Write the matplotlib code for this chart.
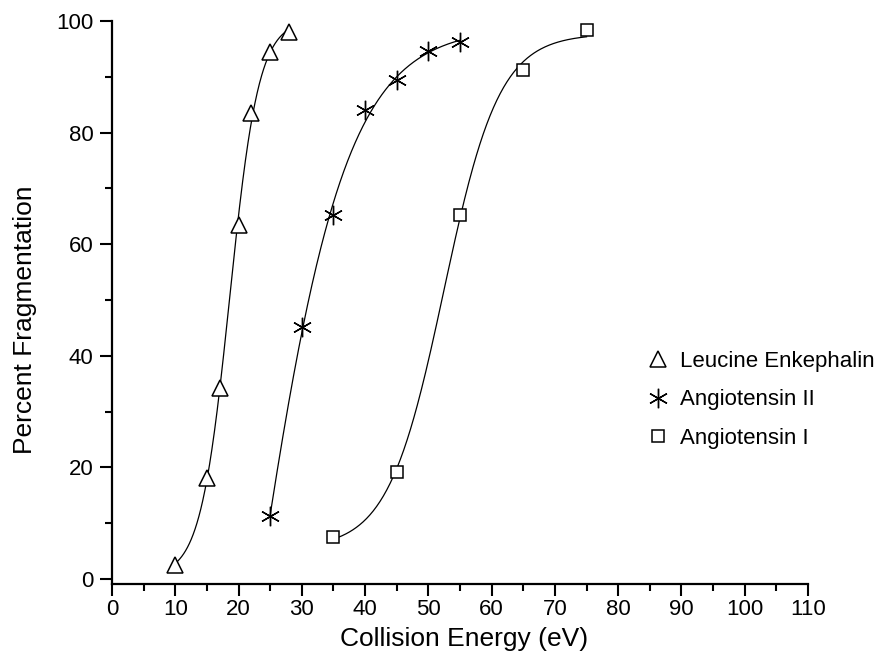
import numpy as np
import matplotlib
matplotlib.use("Agg")
import matplotlib.pyplot as plt
from matplotlib.ticker import MultipleLocator

plt.rcParams['font.family'] = ['Liberation Sans', 'DejaVu Sans']

# Data
leu_x = np.array([10, 15, 17, 20, 22, 25, 28], dtype=float)
leu_y = np.array([2.5, 18.1, 34.2, 63.4, 83.5, 94.4, 98.0])
ang2_x = np.array([25, 30, 35, 40, 45, 50, 55], dtype=float)
ang2_y = np.array([11.3, 45.2, 65.2, 84.0, 89.4, 94.6, 96.2])
ang1_x = np.array([35, 45, 55, 65, 75], dtype=float)
ang1_y = np.array([7.5, 19.2, 65.3, 91.2, 98.3])

labels = ["Leucine Enkephalin", "Angiotensin II", "Angiotensin I"]
xticks = np.arange(0, 111, 10)
yticks = np.arange(0, 101, 20)


def boltz(p, x):
    a1, a2, x0, dx = p
    z = np.clip((x - x0) / dx, -60, 60)
    return a2 + (a1 - a2) / (1 + np.exp(z))


def fit_boltz(x, y):
    p = np.array([y.min() - 3, y.max() + 2, x[np.argmin(np.abs(y - 50))],
                  (x.max() - x.min()) / 8])
    lam = 1e-2
    def res(q):
        return boltz(q, x) - y
    for _ in range(800):
        r = res(p)
        J = np.empty((len(x), 4))
        for k in range(4):
            dp = np.zeros(4)
            h = 1e-6 * max(1.0, abs(p[k]))
            dp[k] = h
            J[:, k] = (res(p + dp) - r) / h
        A = J.T @ J
        g = J.T @ r
        try:
            step = np.linalg.solve(A + lam * np.diag(np.diag(A) + 1e-9), -g)
        except np.linalg.LinAlgError:
            lam *= 10
            continue
        pn = p + step
        if np.sum(res(pn) ** 2) < np.sum(r ** 2):
            p = pn
            lam = max(lam * 0.3, 1e-12)
        else:
            lam *= 10
    return p


W, H = 889, 665
fig = plt.figure(figsize=(W / 100, H / 100), dpi=100)
ax = fig.add_axes([112 / W, 1 - 584 / H, (808 - 112) / W, (584 - 21) / H])

series = [
    (leu_x, leu_y, dict(marker='^', markersize=11)),
    (ang2_x, ang2_y, dict(marker=(6, 2, 0), markersize=14, markeredgewidth=1.0)),
    (ang1_x, ang1_y, dict(marker='s', markersize=9)),
]

for (x, y, mk), lab in zip(series, labels):
    p = fit_boltz(x, y)
    xs = np.linspace(x.min(), x.max(), 300)
    ax.plot(xs, boltz(p, xs), color='black', lw=0.9, zorder=2)
    kw = dict(linestyle='none', color='black', markerfacecolor='white',
              markeredgecolor='black', markeredgewidth=1.1)
    kw.update(mk)
    ax.plot(x, y, label=lab, zorder=3, **kw)

ax.set_xlim(0, 110)
ax.set_ylim(-0.9, 100)
ax.set_xticks(xticks)
ax.set_yticks(yticks)
ax.xaxis.set_minor_locator(MultipleLocator(5))
ax.yaxis.set_minor_locator(MultipleLocator(10))
ax.spines['top'].set_visible(False)
ax.spines['right'].set_visible(False)
for s in ('left', 'bottom'):
    ax.spines[s].set_linewidth(1.6)
ax.tick_params(which='major', direction='out', length=8.5, width=1.5, labelsize=16)
ax.tick_params(axis='x', which='major', pad=2)
ax.tick_params(axis='y', which='major', pad=5)
ax.tick_params(which='minor', direction='out', length=5, width=1.5)

ax.set_xlabel("Collision Energy (eV)", fontsize=19)
ax.set_ylabel("Percent Fragmentation", fontsize=19)
ax.xaxis.set_label_coords(0.5065, (584 - 627) / 563)
ax.yaxis.set_label_coords((37 - 112) / 696, (584 - 320) / 563)

ax.legend(frameon=False, loc='center left', bbox_to_anchor=(647 / W, 1 - 400 / H),
          bbox_transform=fig.transFigure, fontsize=16, handlelength=1.0,
          handletextpad=0.5, labelspacing=0.8, borderpad=0, borderaxespad=0)

fig.savefig("out.png", dpi=100)
